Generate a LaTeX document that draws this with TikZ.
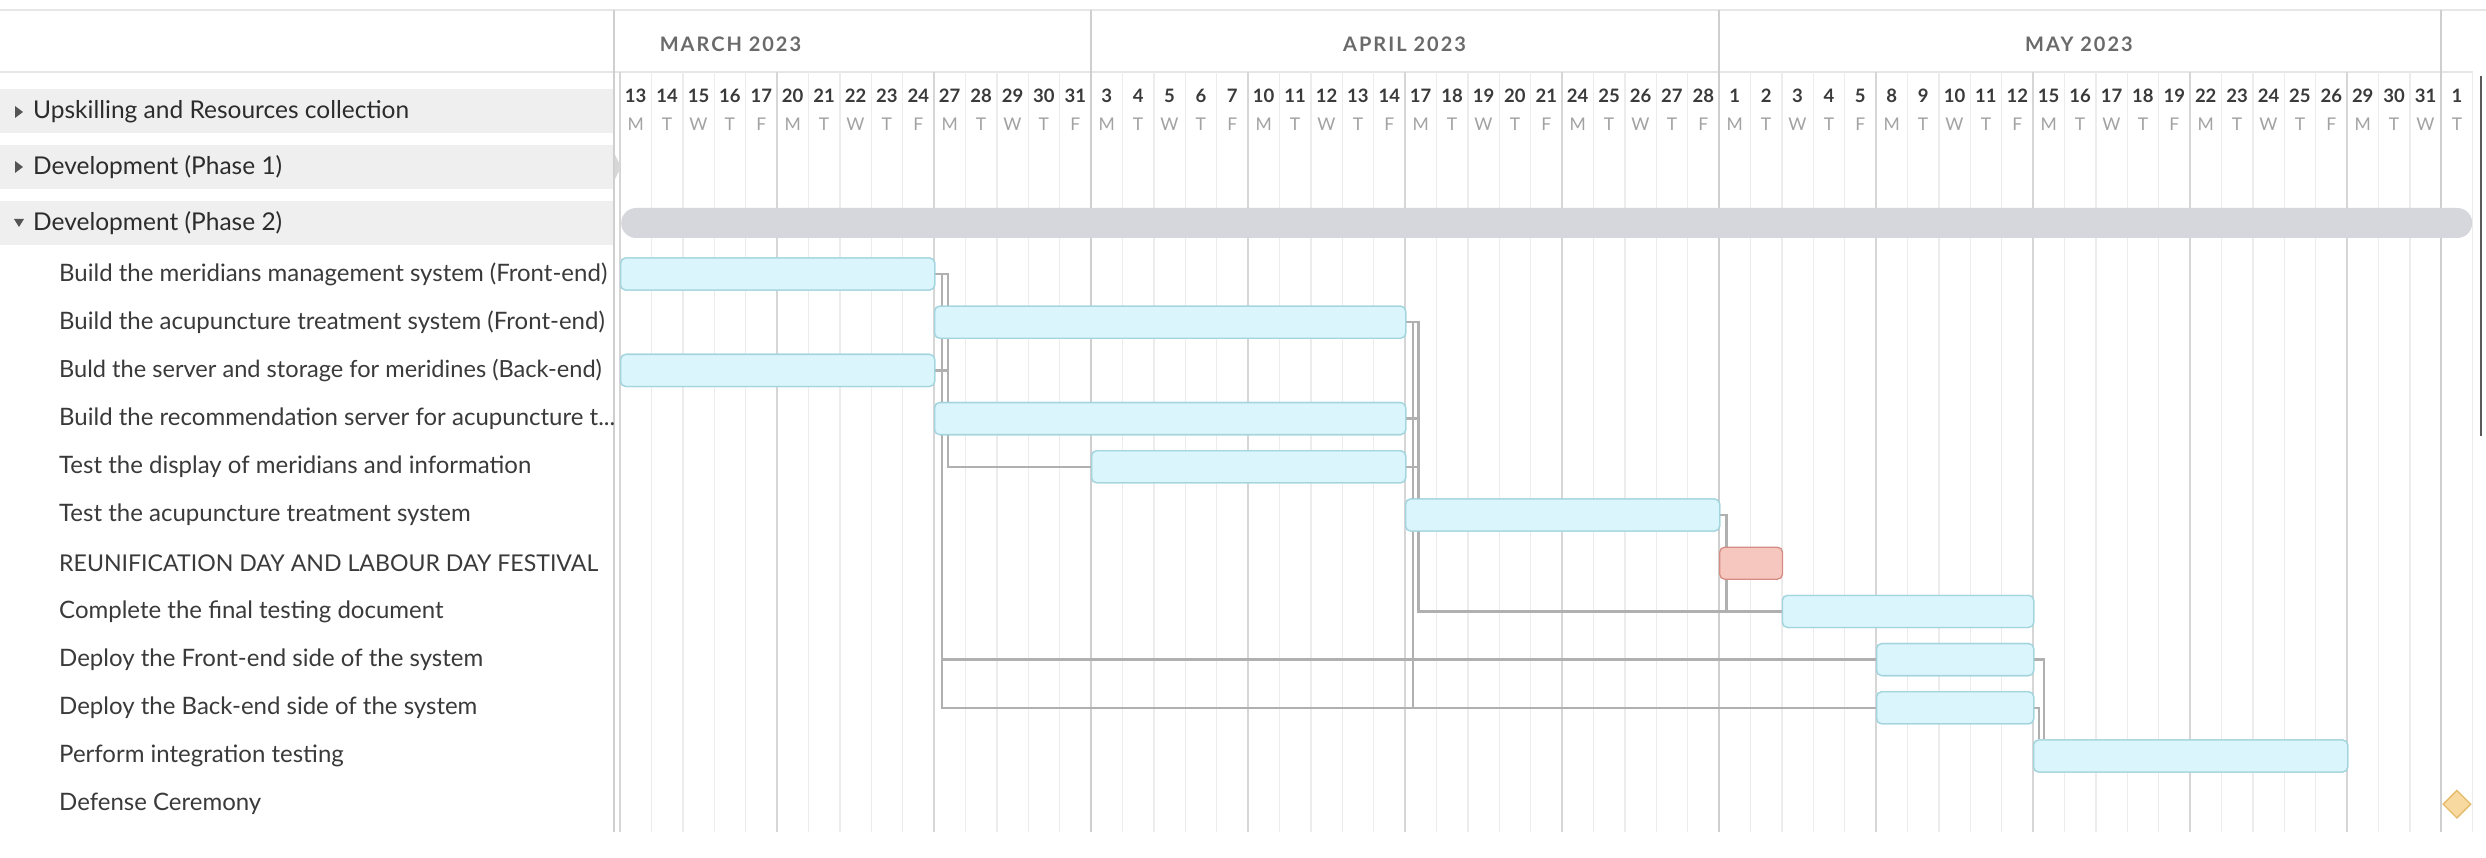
\documentclass[tikz,border=0pt]{standalone}
\usepackage{fontspec}
\setmainfont{Lato}
\newfontfamily\monthfont[LetterSpace=10]{Lato}
\usetikzlibrary{shapes.geometric,calc}
\definecolor{barF}{HTML}{DAF5FB}
\definecolor{barB}{HTML}{A3D5DF}
\definecolor{redF}{HTML}{F5C7BF}
\definecolor{redB}{HTML}{D68C82}
\definecolor{msF}{HTML}{F8D9A0}
\definecolor{msB}{HTML}{E6BA6A}
\definecolor{sumF}{HTML}{D6D7DD}
\definecolor{connC}{HTML}{B0B0B0}
\definecolor{dayL}{HTML}{ECECEC}
\definecolor{weekL}{HTML}{D6D6D6}
\definecolor{monL}{HTML}{CFCFCF}
\definecolor{hdrL}{HTML}{E6E6E6}
\definecolor{bandF}{HTML}{EFEFEF}
\definecolor{txtC}{HTML}{3A3A3A}
\definecolor{grpC}{HTML}{2C2C2C}
\definecolor{wdC}{HTML}{A2A2A2}
\definecolor{monC}{HTML}{6A6A6A}
\definecolor{triC}{HTML}{555555}
\tikzset{
  bar/.style={draw=barB, fill=barF, rounded corners=5pt, minimum height=32pt, inner sep=0pt, anchor=west, line width=1.3pt},
  redbar/.style={bar, draw=redB, fill=redF},
  sumbar/.style={fill=sumF, rounded corners=15pt, minimum height=30pt, inner sep=0pt, anchor=west},
  milestone/.style={diamond, draw=msB, fill=msF, line width=1.3pt, minimum width=28pt, minimum height=28pt, inner sep=0pt},
  conn/.style={draw=connC, line width=2.6pt},
  tasklbl/.style={anchor=west, inner sep=0pt, font=\fontsize{24}{26}\selectfont, text=txtC},
  grplbl/.style={anchor=west, inner sep=0pt, font=\fontsize{24.5}{26}\selectfont, text=grpC},
  daynum/.style={inner sep=0pt, font=\bfseries\fontsize{18.5}{20}\selectfont, text=txtC},
  wday/.style={inner sep=0pt, font=\fontsize{17.5}{19}\selectfont, text=wdC},
  monlbl/.style={anchor=west, inner sep=0pt, font=\monthfont\bfseries\fontsize{20}{22}\selectfont, text=monC},
  dayline/.style={draw=dayL, line width=1.4pt},
  weekline/.style={draw=weekL, line width=1.6pt},
  monline/.style={draw=monL, line width=1.8pt},
}
\begin{document}
\begin{tikzpicture}[x=1pt,y=-1pt]
\useasboundingbox (0,0) rectangle (2486,858);
\fill[white] (0,0) rectangle (2486,858);

% left panel bands
\fill[bandF] (0,89) rectangle (614,133);
\fill[bandF] (0,145) rectangle (614,189);
\fill[bandF] (0,201) rectangle (614,245);
\fill[bandF!90!black] (614,153) -- (621,167) -- (614,181) -- cycle;

% header lines
\draw[hdrL, line width=2pt] (0,10) -- (2486,10);
\draw[hdrL, line width=2pt] (0,72) -- (2472.6,72);
\draw[monL, line width=1.6pt] (614,10) -- (614,832);

% grid
\foreach \c in {1,2,3,4,6,7,8,9,11,12,13,14,16,17,18,19,21,22,23,24,26,27,28,29,31,32,33,34,36,37,38,39,41,42,43,44,46,47,48,49,51,52,53,54,56,57,59}
  \draw[dayline] ({620+31.4*\c},72) -- ({620+31.4*\c},832);
\foreach \c in {0,5,10,20,25,30,40,45,50,55}
  \draw[weekline] ({620+31.4*\c},72) -- ({620+31.4*\c},832);
\foreach \c in {15,35,58}
  \draw[monline] ({620+31.4*\c},10) -- ({620+31.4*\c},832);

% scrollbar
\draw[draw=gray!70!black, line width=2pt] (2481,76) -- (2481,436);

% month labels
\node[monlbl] (m1) at (659.6,44) {MARCH 2023};
\node[monlbl] (m2) at (1343,44) {APRIL 2023};
\node[monlbl] (m3) at (2025,44) {MAY 2023};

% day numbers and weekdays
\foreach \d/\w [count=\i from 0] in {13/M,14/T,15/W,16/T,17/F,20/M,21/T,22/W,23/T,24/F,27/M,28/T,29/W,30/T,31/F,3/M,4/T,5/W,6/T,7/F,10/M,11/T,12/W,13/T,14/F,17/M,18/T,19/W,20/T,21/F,24/M,25/T,26/W,27/T,28/F,1/M,2/T,3/W,4/T,5/F,8/M,9/T,10/W,11/T,12/F,15/M,16/T,17/W,18/T,19/F,22/M,23/T,24/W,25/T,26/F,29/M,30/T,31/W,1/T}
{
  \node[daynum] (d\i) at ({620+31.4*(\i+0.5)},96) {\d};
  \node[wday] (w\i) at ({620+31.4*(\i+0.5)},124) {\w};
}

% group triangles
\fill[triC] (15,106) -- (23,112) -- (15,118) -- cycle;
\fill[triC] (15,161) -- (23,167) -- (15,173) -- cycle;
\fill[triC] (14,219) -- (24,219) -- (19,227) -- cycle;

% group labels
\node[grplbl] (g1) at (33,112) {Upskilling and Resources collection};
\node[grplbl] (g2) at (33,167) {Development (Phase 1)};
\node[grplbl] (g3) at (33,223) {Development (Phase 2)};

% task labels
\node[tasklbl] (t1) at (59,274) {Build the meridians management system (Front-end)};
\node[tasklbl] (t2) at (59,322.2) {Build the acupuncture treatment system (Front-end)};
\node[tasklbl, font=\fontsize{23.6}{26}\selectfont] (t3) at (59,370.4) {Buld the server and storage for meridines (Back-end)};
\node[tasklbl] (t4) at (59,418.6) {Build the recommendation server for acupuncture t...};
\node[tasklbl] (t5) at (59,466.8) {Test the display of meridians and information};
\node[tasklbl] (t6) at (59,515) {Test the acupuncture treatment system};
\node[tasklbl, font=\fontsize{23.1}{26}\selectfont] (t7) at (59,563.2) {REUNIFICATION DAY AND LABOUR DAY FESTIVAL};
\node[tasklbl] (t8) at (59,611.4) {Complete the final testing document};
\node[tasklbl] (t9) at (59,659.6) {Deploy the Front-end side of the system};
\node[tasklbl] (t10) at (59,707.8) {Deploy the Back-end side of the system};
\node[tasklbl] (t11) at (59,756) {Perform integration testing};
\node[tasklbl] (t12) at (59,804.2) {Defense Ceremony};

% summary bar
\node[sumbar, minimum width=1851pt] (p2) at (621,223) {};

% bar nodes (placed first so connectors can use their anchors)
\path
  node[bar, minimum width=314pt] (b1) at (620,274) {}
  node[bar, minimum width=471pt] (b2) at (934,322.2) {}
  node[bar, minimum width=314pt] (b3) at (620,370.4) {}
  node[bar, minimum width=471pt] (b4) at (934,418.6) {}
  node[bar, minimum width=314pt] (b5) at (1091,466.8) {}
  node[bar, minimum width=314pt] (b6) at (1405,515) {}
  node[bar, minimum width=251.2pt] (b8) at (1781.8,611.4) {}
  node[bar, minimum width=157pt] (b9) at (1876,659.6) {}
  node[bar, minimum width=157pt] (b10) at (1876,707.8) {}
  node[bar, minimum width=314pt] (b11) at (2033,756) {};

% connectors
\draw[conn] (b1.east) -- ++(12.7,0) |- (b5.west);
\draw[conn] (b1.east) -- ++(6.7,0) |- (b10.west);
\draw[conn] ($(b1.east)+(6.7,0)$) |- (b9.west);
\draw[conn] (b3.east) -- ++(12,0);
\draw[conn] (b2.east) -- ++(12,0) |- (b8.west);
\draw[conn] (b2.east) -- ++(6.7,0) |- (b10.west);
\draw[conn] (b4.east) -- ++(12,0);
\draw[conn] (b5.east) -- ++(12,0);
\draw[conn] (b6.east) -- ++(6,0) |- (b8.west);
\draw[conn] (b9.east) -| ($(b11.north west)+(11,0)$);
\draw[conn] (b10.east) -| ($(b11.north west)+(6,0)$);

% bars on top
\node[bar, minimum width=314pt] at (620,274) {};
\node[bar, minimum width=471pt] at (934,322.2) {};
\node[bar, minimum width=314pt] at (620,370.4) {};
\node[bar, minimum width=471pt] at (934,418.6) {};
\node[bar, minimum width=314pt] at (1091,466.8) {};
\node[bar, minimum width=314pt] at (1405,515) {};
\node[redbar, minimum width=62.8pt] (b7) at (1719,563.2) {};
\node[bar, minimum width=251.2pt] at (1781.8,611.4) {};
\node[bar, minimum width=157pt] at (1876,659.6) {};
\node[bar, minimum width=157pt] at (1876,707.8) {};
\node[bar, minimum width=314pt] at (2033,756) {};
\node[milestone] (ms) at (2456.9,804.2) {};
\end{tikzpicture}
\end{document}
